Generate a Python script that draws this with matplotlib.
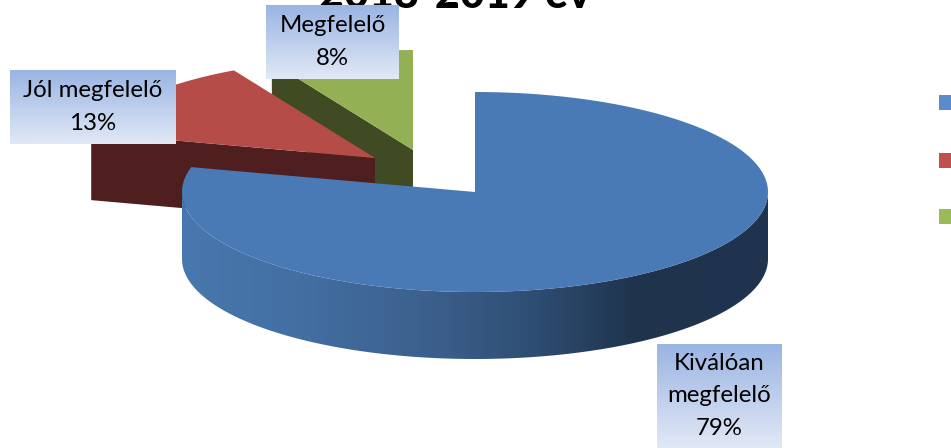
import numpy as np
import matplotlib
matplotlib.use("Agg")
import matplotlib.pyplot as plt
from matplotlib.colors import LinearSegmentedColormap
from matplotlib.patches import Polygon, Rectangle

# Data
categories = ["Kiválóan megfelelő", "Jól megfelelő", "Megfelelő"]
shares = [79, 13, 8]
label_lines = [["Kiválóan", "megfelelő", "79%"], ["Jól megfelelő", "13%"], ["Megfelelő", "8%"]]
title = "2018-2019 év"

# Colours
top_colors = ["#4a7ab5", "#b64c48", "#94b055"]
side_colors = ["#20344f", "#4e1f1e", "#404b23"]
legend_colors = ["#5a8ccb", "#c0504d", "#9bbb59"]

# Pie geometry in pixels
cx, cy = 475, 192
rx, ry = 293, 100
depth = 67
offsets = [(0, 0), (-100, -34), (-62, -42)]
label_boxes = [(657, 344, 125, 104), (10, 70, 166, 74), (266, 5, 133, 74)]
legend_y = [95, 153, 209]

plt.rcParams["font.family"] = ["Lato", "DejaVu Sans"]

fig = plt.figure(figsize=(9.51, 4.48), dpi=100)
ax = fig.add_axes([0, 0, 1, 1])
ax.set_xlim(0, 951)
ax.set_ylim(448, 0)
ax.axis("off")

ax.text(455, 8.5, title, ha="center", va="baseline", fontsize=31, fontweight="black",
        color="black", zorder=1)


def rim(theta, ox=0, oy=0):
    # clockwise from 12 o'clock
    return np.column_stack([cx + ox + rx * np.sin(theta), cy + oy - ry * np.cos(theta)])


# Wedge angles from the shares
edges = np.cumsum([0] + shares) / sum(shares) * 2 * np.pi

# Draw back to front: green, red, blue
for i in [2, 1]:
    ox, oy = offsets[i]
    arc = rim(np.linspace(edges[i], edges[i + 1], 80), ox, oy)
    apex = np.array([cx + ox, cy + oy])
    a = arc[0]
    ax.add_patch(Polygon([apex, a, a + [0, depth], apex + [0, depth]],
                         fc=side_colors[i], ec="none", zorder=2 + (2 - i) * 2))
    ax.add_patch(Polygon(np.vstack([apex, arc]), fc=top_colors[i], ec="none",
                         zorder=3 + (2 - i) * 2))

# Blue side with a horizontal shade
arc_side = rim(np.linspace(np.pi / 2, 1.5 * np.pi, 200))
side_poly = Polygon(np.vstack([arc_side, (arc_side + [0, depth])[::-1]]), fc="none",
                    ec="none", transform=ax.transData)
ax.add_patch(side_poly)
shade = LinearSegmentedColormap.from_list(
    "shade", [(0, "#4878ae"), (0.2, "#436fa3"), (0.436, "#3b5f8b"), (0.605, "#2e4d72"),
              (0.775, "#1f334d"), (1, "#20344f")])
img = ax.imshow(np.linspace(0, 1, 256)[None, :], cmap=shade, aspect="auto",
                extent=[180, 770, 448, 0], zorder=8)
img.set_clip_path(side_poly)

arc_top = rim(np.linspace(edges[0], edges[1], 300))
ax.add_patch(Polygon(np.vstack([[cx, cy], arc_top]), fc=top_colors[0], ec="none", zorder=9))

# Data labels
box_cmap = LinearSegmentedColormap.from_list("box", ["#9ab5e3", "#e1e8f6"])
line_h = 32.5
for lines, (bx, by, bw, bh) in zip(label_lines, label_boxes):
    ax.imshow(np.linspace(0, 1, 64)[:, None], cmap=box_cmap, aspect="auto",
              extent=[bx, bx + bw, by + bh, by], zorder=10)
    y0 = by + bh / 2 - (len(lines) - 1) * line_h / 2
    for k, line in enumerate(lines):
        ax.text(bx + bw / 2, y0 + k * line_h, line, ha="center", va="center",
                fontsize=17.3, color="black", zorder=11)
ax.set_xlim(0, 951)
ax.set_ylim(448, 0)

# Legend keys, the legend text is cut off by the right edge
for name, col, y in zip(categories, legend_colors, legend_y):
    ax.add_patch(Rectangle((939, y), 15, 15, fc=col, ec="none", label=name, zorder=10))

fig.savefig("out.png", dpi=100)
